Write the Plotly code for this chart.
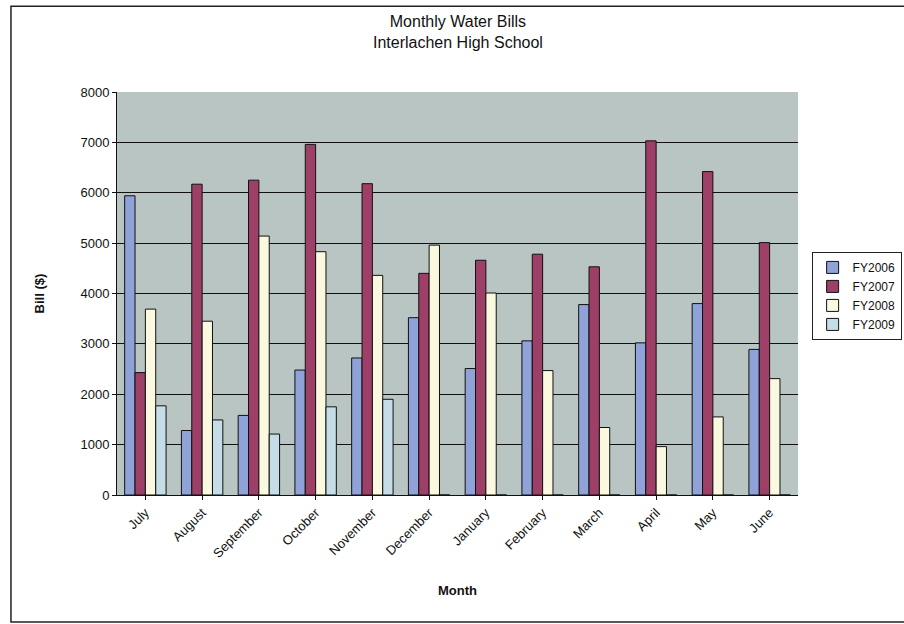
import plotly.graph_objects as go

months = ["July", "August", "September", "October", "November", "December",
          "January", "February", "March", "April", "May", "June"]
fy2006 = [5940, 1280, 1580, 2480, 2720, 3520, 2510, 3060, 3780, 3020, 3800, 2890]
fy2007 = [2430, 6170, 6250, 6960, 6180, 4400, 4660, 4780, 4530, 7030, 6420, 5010]
fy2008 = [3690, 3450, 5140, 4830, 4360, 4960, 4010, 2470, 1340, 960, 1550, 2310]
fy2009 = [1770, 1490, 1210, 1750, 1900, 0, 0, 0, 0, 0, 0, 0]
series_names = ["FY2006", "FY2007", "FY2008", "FY2009"]
series_colors = ["#8fa3d9", "#9e3f68", "#fbf8e0", "#c4dde6"]
y_ticks = [0, 1000, 2000, 3000, 4000, 5000, 6000, 7000, 8000]

fig = go.Figure()
for name, vals, col in zip(series_names, [fy2006, fy2007, fy2008, fy2009], series_colors):
    fig.add_trace(go.Bar(x=months, y=vals, name=name, marker_color=col,
                         marker_line_color="#111111", marker_line_width=1))

fig.update_layout(
    width=904, height=624,
    margin=dict(l=117, r=106, t=92, b=129, autoexpand=False),
    paper_bgcolor="white",
    plot_bgcolor="#b9c5c3",
    barmode="group", bargap=0.27, bargroupgap=0,
    font=dict(family="Liberation Sans, Arial, sans-serif", size=12, color="#111111"),
    legend=dict(x=1.02, xanchor="left", y=0.494, yanchor="middle",
                bordercolor="#222222", borderwidth=1, bgcolor="white",
                font=dict(size=12), itemwidth=30),
    showlegend=True,
    annotations=[dict(text="Monthly Water Bills<br>Interlachen High School",
                      xref="paper", yref="paper", x=0.5, y=1.149,
                      xanchor="center", yanchor="middle", showarrow=False,
                      font=dict(size=16, color="#111111"))],
    shapes=[dict(type="rect", xref="paper", yref="paper",
                 x0=-0.1557, x1=1.16, y0=-0.315, y1=1.213,
                 line=dict(color="#222222", width=1.5))],
)
fig.update_xaxes(showline=True, linecolor="#111111", linewidth=1,
                 tickangle=-45, ticks="outside", ticklen=4, tickcolor="#111111",
                 tickfont=dict(size=13),
                 title=dict(text="<b>Month</b>", font=dict(size=13), standoff=26))
fig.update_yaxes(range=[0, 8000], tickvals=y_ticks, showgrid=True,
                 gridcolor="#111111", gridwidth=1, showline=True,
                 linecolor="#111111", linewidth=1, ticks="outside", ticklen=4,
                 tickcolor="#111111", zeroline=False, tickfont=dict(size=13),
                 title=dict(text="<b>Bill ($)</b>", font=dict(size=13), standoff=32))

fig.write_html("out.html")
